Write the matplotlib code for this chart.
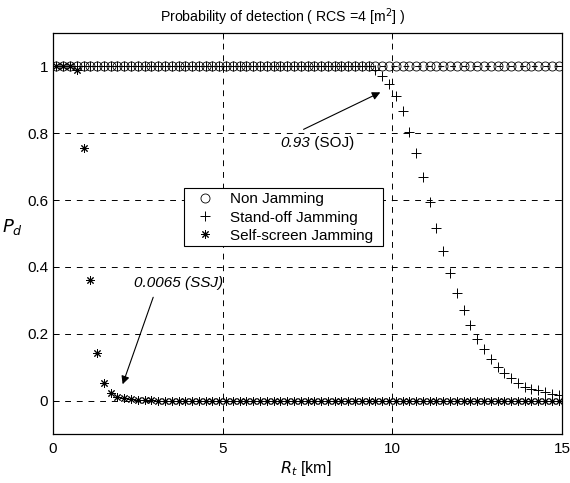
import numpy as np
import matplotlib
matplotlib.use("Agg")
import matplotlib.pyplot as plt
from matplotlib.patches import Rectangle

plt.rcParams['font.family'] = ['Liberation Sans', 'DejaVu Sans']

# Target range samples [km]
range_km = np.arange(0.1, 15.0, 0.2)  # 0.1 ... 14.9, 75 samples

# Probability of detection, no jamming
pd_none = [1.0] * len(range_km)

# Probability of detection, stand-off jamming
pd_soj = [1.0] * 47 + [
    0.99, 0.971, 0.948, 0.911, 0.866, 0.804, 0.740, 0.669, 0.594, 0.517,
    0.447, 0.382, 0.322, 0.270, 0.225, 0.183, 0.153, 0.125, 0.101, 0.083,
    0.068, 0.053, 0.041, 0.035, 0.031, 0.025, 0.021, 0.017,
]

# Probability of detection, self-screen jamming
pd_ssj = [1.0, 1.0, 1.0, 0.99, 0.757, 0.362, 0.143, 0.053, 0.023, 0.012,
          0.0065, 0.004, 0.0025, 0.0016, 0.001] + [0.0] * 60

x_ticks = [0, 5, 10, 15]
y_ticks = [0, 0.2, 0.4, 0.6, 0.8, 1.0]
y_tick_labels = ['0', '0.2', '0.4', '0.6', '0.8', '1']

W, H = 570, 483
fig = plt.figure(figsize=(W / 100, H / 100), dpi=100)
ax = fig.add_axes([53 / W, 1 - 434 / H, 509 / W, 401 / H])

asterisk = (8, 2, 0)
ax.plot(range_km, pd_none, linestyle='none', marker='o', markersize=6.5,
        markerfacecolor='none', markeredgecolor='black', markeredgewidth=0.6,
        label='Non Jamming')
ax.plot(range_km, pd_soj, linestyle='none', marker='+', markersize=7.5,
        color='black', markeredgewidth=0.7, label='Stand-off Jamming')
ax.plot(range_km, pd_ssj, linestyle='none', marker=asterisk, markersize=6,
        color='black', markeredgewidth=0.7, label='Self-screen Jamming')

ax.set_xlim(0, 15)
ax.set_ylim(-0.1, 1.1)
ax.set_xticks(x_ticks)
ax.set_xticklabels([str(t) for t in x_ticks])
ax.set_yticks(y_ticks)
ax.set_yticklabels(y_tick_labels)
ax.tick_params(direction='in', length=4, width=0.6, labelsize=11,
               top=True, right=True)
ax.tick_params(axis='y', pad=3.5)
ax.tick_params(axis='x', pad=6)
ax.grid(True, color='black', linestyle=(0, (6, 6)), linewidth=0.7)
for sp in ax.spines.values():
    sp.set_linewidth(0.9)

fig.text(283 / W, 1 - 17 / H, r'Probability of detection ( RCS =4 [m$^2$] )',
         fontsize=10.2, ha='center', va='center')

ax.set_xlabel(r'$R_t$ [km]', fontsize=11.5)
ax.xaxis.set_label_coords(0.497, -0.085)
ax.xaxis.label.set_va('center')
ax.set_ylabel(r'$P_d$', fontsize=13, rotation=0, ha='center', va='center')
ax.yaxis.set_label_coords(-0.08, 0.516)

ax.annotate('', xy=(9.72, 0.926), xytext=(7.31, 0.808),
            arrowprops=dict(arrowstyle='-|>', color='black', lw=0.8,
                            mutation_scale=12))
ax.text(7.57, 0.77, '0.93', style='italic', fontsize=11, ha='right', va='center')
ax.text(7.57, 0.77, ' (SOJ)', fontsize=11, ha='left', va='center')

ax.annotate('', xy=(2.025, 0.041), xytext=(2.98, 0.317),
            arrowprops=dict(arrowstyle='-|>', color='black', lw=0.8,
                            mutation_scale=12))
ax.text(3.71, 0.352, '0.0065 (SSJ)', style='italic', fontsize=11,
        ha='center', va='center')

# Legend box drawn as its own patch, entries laid out by legend()
ax.add_patch(Rectangle((0.258, 0.4688), 0.3898, 0.1454, transform=ax.transAxes,
                       facecolor='white', edgecolor='black', linewidth=0.8,
                       zorder=4.5))
leg = ax.legend(loc='center left', bbox_to_anchor=(0.2747, 0.5397), fontsize=11,
                frameon=False, handlelength=1.6, borderpad=0, labelspacing=0.27,
                handletextpad=0.84, borderaxespad=0)
leg.set_zorder(5)

fig.savefig('out.png', dpi=100)
